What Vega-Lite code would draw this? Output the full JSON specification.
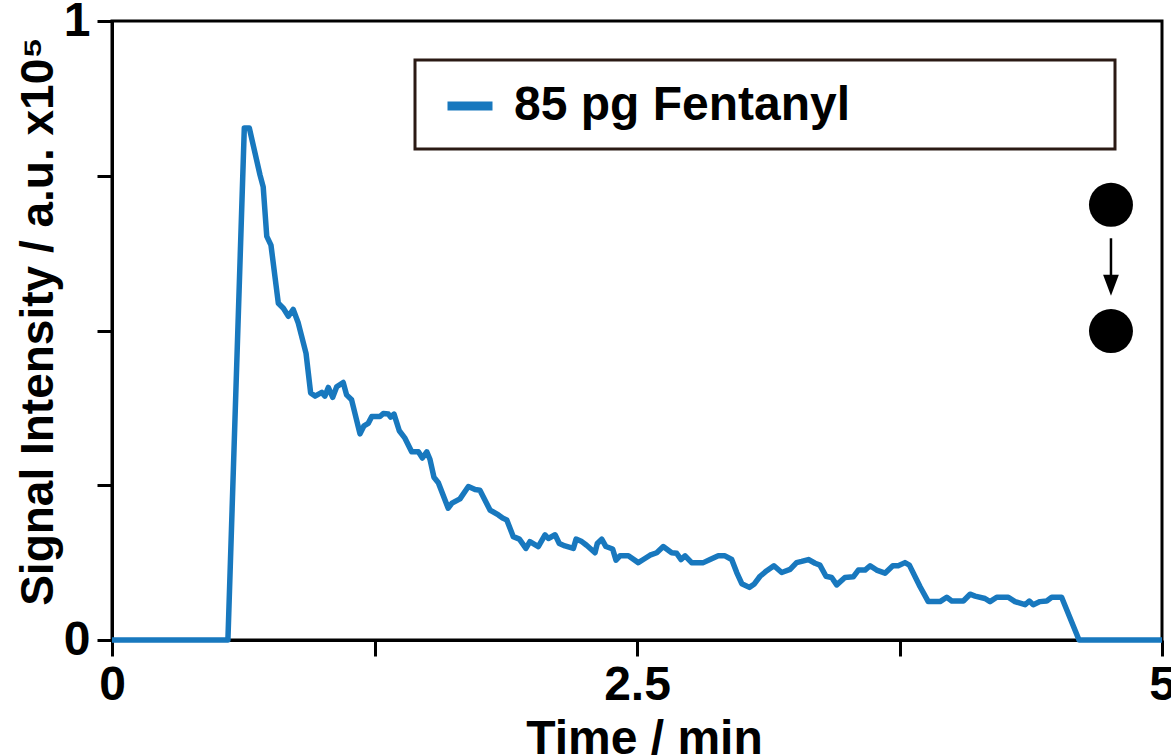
{
  "$schema": "https://vega.github.io/schema/vega-lite/v6.json",
  "width": 1050,
  "height": 619,
  "autosize": {"type": "none"},
  "padding": {"left": 112, "top": 21, "right": 9, "bottom": 115},
  "background": "white",
  "config": {
    "view": {"stroke": "black", "strokeWidth": 3},
    "font": "Liberation Sans"
  },
  "datasets": {
    "signal": [
      {"t": 0, "s": 0, "series": "85 pg Fentanyl"},
      {"t": 0.552, "s": 0, "series": "85 pg Fentanyl"},
      {"t": 0.630, "s": 0.827, "series": "85 pg Fentanyl"},
      {"t": 0.654, "s": 0.827, "series": "85 pg Fentanyl"},
      {"t": 0.705, "s": 0.751, "series": "85 pg Fentanyl"},
      {"t": 0.720, "s": 0.732, "series": "85 pg Fentanyl"},
      {"t": 0.737, "s": 0.652, "series": "85 pg Fentanyl"},
      {"t": 0.757, "s": 0.638, "series": "85 pg Fentanyl"},
      {"t": 0.792, "s": 0.544, "series": "85 pg Fentanyl"},
      {"t": 0.816, "s": 0.536, "series": "85 pg Fentanyl"},
      {"t": 0.840, "s": 0.523, "series": "85 pg Fentanyl"},
      {"t": 0.863, "s": 0.534, "series": "85 pg Fentanyl"},
      {"t": 0.887, "s": 0.512, "series": "85 pg Fentanyl"},
      {"t": 0.924, "s": 0.463, "series": "85 pg Fentanyl"},
      {"t": 0.946, "s": 0.399, "series": "85 pg Fentanyl"},
      {"t": 0.967, "s": 0.394, "series": "85 pg Fentanyl"},
      {"t": 0.999, "s": 0.400, "series": "85 pg Fentanyl"},
      {"t": 1.014, "s": 0.394, "series": "85 pg Fentanyl"},
      {"t": 1.030, "s": 0.408, "series": "85 pg Fentanyl"},
      {"t": 1.051, "s": 0.392, "series": "85 pg Fentanyl"},
      {"t": 1.070, "s": 0.409, "series": "85 pg Fentanyl"},
      {"t": 1.101, "s": 0.416, "series": "85 pg Fentanyl"},
      {"t": 1.117, "s": 0.396, "series": "85 pg Fentanyl"},
      {"t": 1.141, "s": 0.388, "series": "85 pg Fentanyl"},
      {"t": 1.181, "s": 0.333, "series": "85 pg Fentanyl"},
      {"t": 1.200, "s": 0.346, "series": "85 pg Fentanyl"},
      {"t": 1.220, "s": 0.350, "series": "85 pg Fentanyl"},
      {"t": 1.237, "s": 0.361, "series": "85 pg Fentanyl"},
      {"t": 1.276, "s": 0.361, "series": "85 pg Fentanyl"},
      {"t": 1.292, "s": 0.366, "series": "85 pg Fentanyl"},
      {"t": 1.316, "s": 0.365, "series": "85 pg Fentanyl"},
      {"t": 1.327, "s": 0.360, "series": "85 pg Fentanyl"},
      {"t": 1.343, "s": 0.365, "series": "85 pg Fentanyl"},
      {"t": 1.368, "s": 0.338, "series": "85 pg Fentanyl"},
      {"t": 1.395, "s": 0.326, "series": "85 pg Fentanyl"},
      {"t": 1.427, "s": 0.304, "series": "85 pg Fentanyl"},
      {"t": 1.459, "s": 0.304, "series": "85 pg Fentanyl"},
      {"t": 1.478, "s": 0.294, "series": "85 pg Fentanyl"},
      {"t": 1.499, "s": 0.304, "series": "85 pg Fentanyl"},
      {"t": 1.514, "s": 0.292, "series": "85 pg Fentanyl"},
      {"t": 1.533, "s": 0.263, "series": "85 pg Fentanyl"},
      {"t": 1.554, "s": 0.254, "series": "85 pg Fentanyl"},
      {"t": 1.601, "s": 0.213, "series": "85 pg Fentanyl"},
      {"t": 1.619, "s": 0.221, "series": "85 pg Fentanyl"},
      {"t": 1.657, "s": 0.228, "series": "85 pg Fentanyl"},
      {"t": 1.697, "s": 0.248, "series": "85 pg Fentanyl"},
      {"t": 1.729, "s": 0.243, "series": "85 pg Fentanyl"},
      {"t": 1.752, "s": 0.242, "series": "85 pg Fentanyl"},
      {"t": 1.800, "s": 0.210, "series": "85 pg Fentanyl"},
      {"t": 1.840, "s": 0.202, "series": "85 pg Fentanyl"},
      {"t": 1.860, "s": 0.197, "series": "85 pg Fentanyl"},
      {"t": 1.880, "s": 0.194, "series": "85 pg Fentanyl"},
      {"t": 1.911, "s": 0.167, "series": "85 pg Fentanyl"},
      {"t": 1.940, "s": 0.163, "series": "85 pg Fentanyl"},
      {"t": 1.971, "s": 0.148, "series": "85 pg Fentanyl"},
      {"t": 1.990, "s": 0.159, "series": "85 pg Fentanyl"},
      {"t": 2.030, "s": 0.151, "series": "85 pg Fentanyl"},
      {"t": 2.062, "s": 0.170, "series": "85 pg Fentanyl"},
      {"t": 2.078, "s": 0.164, "series": "85 pg Fentanyl"},
      {"t": 2.110, "s": 0.170, "series": "85 pg Fentanyl"},
      {"t": 2.130, "s": 0.156, "series": "85 pg Fentanyl"},
      {"t": 2.157, "s": 0.152, "series": "85 pg Fentanyl"},
      {"t": 2.197, "s": 0.148, "series": "85 pg Fentanyl"},
      {"t": 2.210, "s": 0.163, "series": "85 pg Fentanyl"},
      {"t": 2.237, "s": 0.159, "series": "85 pg Fentanyl"},
      {"t": 2.260, "s": 0.153, "series": "85 pg Fentanyl"},
      {"t": 2.300, "s": 0.141, "series": "85 pg Fentanyl"},
      {"t": 2.311, "s": 0.156, "series": "85 pg Fentanyl"},
      {"t": 2.332, "s": 0.163, "series": "85 pg Fentanyl"},
      {"t": 2.352, "s": 0.151, "series": "85 pg Fentanyl"},
      {"t": 2.384, "s": 0.147, "series": "85 pg Fentanyl"},
      {"t": 2.400, "s": 0.129, "series": "85 pg Fentanyl"},
      {"t": 2.419, "s": 0.136, "series": "85 pg Fentanyl"},
      {"t": 2.459, "s": 0.136, "series": "85 pg Fentanyl"},
      {"t": 2.506, "s": 0.125, "series": "85 pg Fentanyl"},
      {"t": 2.530, "s": 0.130, "series": "85 pg Fentanyl"},
      {"t": 2.562, "s": 0.137, "series": "85 pg Fentanyl"},
      {"t": 2.594, "s": 0.141, "series": "85 pg Fentanyl"},
      {"t": 2.625, "s": 0.151, "series": "85 pg Fentanyl"},
      {"t": 2.665, "s": 0.141, "series": "85 pg Fentanyl"},
      {"t": 2.689, "s": 0.140, "series": "85 pg Fentanyl"},
      {"t": 2.710, "s": 0.130, "series": "85 pg Fentanyl"},
      {"t": 2.729, "s": 0.136, "series": "85 pg Fentanyl"},
      {"t": 2.760, "s": 0.125, "series": "85 pg Fentanyl"},
      {"t": 2.816, "s": 0.125, "series": "85 pg Fentanyl"},
      {"t": 2.848, "s": 0.130, "series": "85 pg Fentanyl"},
      {"t": 2.887, "s": 0.136, "series": "85 pg Fentanyl"},
      {"t": 2.919, "s": 0.136, "series": "85 pg Fentanyl"},
      {"t": 2.951, "s": 0.130, "series": "85 pg Fentanyl"},
      {"t": 2.975, "s": 0.109, "series": "85 pg Fentanyl"},
      {"t": 2.999, "s": 0.091, "series": "85 pg Fentanyl"},
      {"t": 3.035, "s": 0.085, "series": "85 pg Fentanyl"},
      {"t": 3.057, "s": 0.090, "series": "85 pg Fentanyl"},
      {"t": 3.086, "s": 0.103, "series": "85 pg Fentanyl"},
      {"t": 3.118, "s": 0.112, "series": "85 pg Fentanyl"},
      {"t": 3.152, "s": 0.120, "series": "85 pg Fentanyl"},
      {"t": 3.189, "s": 0.109, "series": "85 pg Fentanyl"},
      {"t": 3.229, "s": 0.114, "series": "85 pg Fentanyl"},
      {"t": 3.260, "s": 0.125, "series": "85 pg Fentanyl"},
      {"t": 3.284, "s": 0.127, "series": "85 pg Fentanyl"},
      {"t": 3.316, "s": 0.130, "series": "85 pg Fentanyl"},
      {"t": 3.348, "s": 0.124, "series": "85 pg Fentanyl"},
      {"t": 3.371, "s": 0.121, "series": "85 pg Fentanyl"},
      {"t": 3.400, "s": 0.103, "series": "85 pg Fentanyl"},
      {"t": 3.427, "s": 0.101, "series": "85 pg Fentanyl"},
      {"t": 3.451, "s": 0.089, "series": "85 pg Fentanyl"},
      {"t": 3.490, "s": 0.101, "series": "85 pg Fentanyl"},
      {"t": 3.530, "s": 0.102, "series": "85 pg Fentanyl"},
      {"t": 3.554, "s": 0.113, "series": "85 pg Fentanyl"},
      {"t": 3.586, "s": 0.113, "series": "85 pg Fentanyl"},
      {"t": 3.610, "s": 0.120, "series": "85 pg Fentanyl"},
      {"t": 3.641, "s": 0.113, "series": "85 pg Fentanyl"},
      {"t": 3.681, "s": 0.108, "series": "85 pg Fentanyl"},
      {"t": 3.718, "s": 0.120, "series": "85 pg Fentanyl"},
      {"t": 3.744, "s": 0.120, "series": "85 pg Fentanyl"},
      {"t": 3.776, "s": 0.125, "series": "85 pg Fentanyl"},
      {"t": 3.797, "s": 0.121, "series": "85 pg Fentanyl"},
      {"t": 3.848, "s": 0.086, "series": "85 pg Fentanyl"},
      {"t": 3.887, "s": 0.062, "series": "85 pg Fentanyl"},
      {"t": 3.943, "s": 0.062, "series": "85 pg Fentanyl"},
      {"t": 3.975, "s": 0.069, "series": "85 pg Fentanyl"},
      {"t": 3.999, "s": 0.063, "series": "85 pg Fentanyl"},
      {"t": 4.054, "s": 0.063, "series": "85 pg Fentanyl"},
      {"t": 4.086, "s": 0.074, "series": "85 pg Fentanyl"},
      {"t": 4.110, "s": 0.071, "series": "85 pg Fentanyl"},
      {"t": 4.157, "s": 0.067, "series": "85 pg Fentanyl"},
      {"t": 4.181, "s": 0.062, "series": "85 pg Fentanyl"},
      {"t": 4.213, "s": 0.069, "series": "85 pg Fentanyl"},
      {"t": 4.268, "s": 0.069, "series": "85 pg Fentanyl"},
      {"t": 4.300, "s": 0.062, "series": "85 pg Fentanyl"},
      {"t": 4.348, "s": 0.057, "series": "85 pg Fentanyl"},
      {"t": 4.368, "s": 0.063, "series": "85 pg Fentanyl"},
      {"t": 4.387, "s": 0.057, "series": "85 pg Fentanyl"},
      {"t": 4.419, "s": 0.062, "series": "85 pg Fentanyl"},
      {"t": 4.451, "s": 0.063, "series": "85 pg Fentanyl"},
      {"t": 4.475, "s": 0.069, "series": "85 pg Fentanyl"},
      {"t": 4.522, "s": 0.069, "series": "85 pg Fentanyl"},
      {"t": 4.605, "s": 0, "series": "85 pg Fentanyl"},
      {"t": 5, "s": 0, "series": "85 pg Fentanyl"}
    ],
    "dots": [
      {"t": 4.757, "s": 0.703},
      {"t": 4.757, "s": 0.499}
    ],
    "arrow": [
      {"t": 4.757, "s": 0.649, "s2": 0.575}
    ],
    "arrowhead": [
      {"t": 4.757, "s": 0.573}
    ]
  },
  "layer": [
    {
      "data": {"name": "signal"},
      "mark": {"type": "line", "strokeWidth": 5.5, "strokeJoin": "round", "strokeCap": "butt"},
      "encoding": {
        "x": {
          "field": "t", "type": "quantitative",
          "scale": {"domain": [0, 5], "nice": false, "zero": false},
          "axis": {
            "values": [0, 1.25, 2.5, 3.75, 5],
            "labelExpr": "datum.value == 0 ? '0' : datum.value == 2.5 ? '2.5' : datum.value == 5 ? '5' : ''",
            "grid": false,
            "domainColor": "black", "domainWidth": 3,
            "tickColor": "black", "tickWidth": 3, "tickSize": 16,
            "labelFont": "Liberation Sans", "labelFontSize": 48, "labelFontWeight": "bold",
            "labelColor": "black", "labelPadding": 5, "labelFlush": false, "labelOverlap": false,
            "title": "Time / min",
            "titleFont": "Liberation Sans", "titleFontSize": 48, "titleFontWeight": "bold",
            "titleColor": "black",
            "titleX": 532, "titleY": 113, "titleAlign": "center", "titleBaseline": "alphabetic"
          }
        },
        "y": {
          "field": "s", "type": "quantitative",
          "scale": {"domain": [0, 1], "nice": false},
          "axis": {
            "values": [0, 0.25, 0.5, 0.75, 1],
            "labelExpr": "datum.value == 0 ? '0' : datum.value == 1 ? '1' : ''",
            "grid": false,
            "domainColor": "black", "domainWidth": 3,
            "tickColor": "black", "tickWidth": 3, "tickSize": 15,
            "labelFont": "Liberation Sans", "labelFontSize": 48, "labelFontWeight": "bold",
            "labelColor": "black", "labelPadding": 7, "labelFlush": false, "labelOverlap": false,
            "title": "Signal Intensity / a.u. x10⁵",
            "titleFont": "Liberation Sans", "titleFontSize": 46, "titleFontWeight": "bold",
            "titleColor": "black", "titleAngle": -90,
            "titleX": -60, "titleY": 300, "titleAlign": "center", "titleBaseline": "alphabetic"
          }
        },
        "color": {
          "field": "series", "type": "nominal",
          "scale": {"domain": ["85 pg Fentanyl"], "range": ["#1878be"]},
          "legend": {
            "orient": "none",
            "legendX": 303,
            "legendY": 39,
            "title": null,
            "padding": 19,
            "strokeColor": "#2b1a14",
            "fillColor": "white",
            "symbolType": "stroke",
            "symbolSize": 2025,
            "symbolStrokeWidth": 9,
            "symbolOffset": 9,
            "labelOffset": 17,
            "labelFont": "Liberation Sans",
            "labelFontSize": 48,
            "labelFontWeight": "bold",
            "labelColor": "black",
            "labelLimit": 2000,
            "labelExpr": "datum.label + '\u2800\u2800\u2800\u2800\u2800\u2800\u2800'",
            "encode": {"legend": {"update": {"strokeWidth": {"value": 3}}}}
          }
        }
      }
    },
    {
      "data": {"name": "arrow"},
      "mark": {"type": "rule", "color": "black", "strokeWidth": 2.5},
      "encoding": {
        "x": {"field": "t", "type": "quantitative"},
        "y": {"field": "s", "type": "quantitative"},
        "y2": {"field": "s2"}
      }
    },
    {
      "data": {"name": "arrowhead"},
      "mark": {"type": "point", "shape": "M-0.75,-1L0.75,-1L0,1Z", "filled": true, "color": "black", "opacity": 1, "size": 441, "strokeWidth": 0},
      "encoding": {
        "x": {"field": "t", "type": "quantitative"},
        "y": {"field": "s", "type": "quantitative"}
      }
    },
    {
      "data": {"name": "dots"},
      "mark": {"type": "point", "shape": "circle", "filled": true, "color": "black", "opacity": 1, "size": 1936, "strokeWidth": 0},
      "encoding": {
        "x": {"field": "t", "type": "quantitative"},
        "y": {"field": "s", "type": "quantitative"}
      }
    }
  ]
}
